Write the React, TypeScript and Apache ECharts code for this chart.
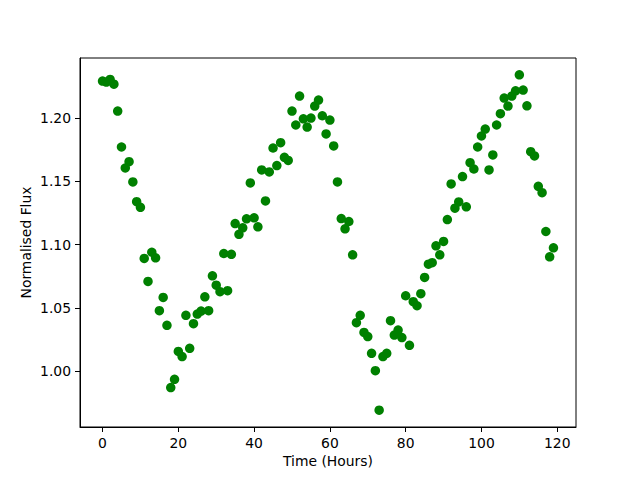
import React, { useEffect, useRef } from "react";
import * as echarts from "echarts";

const hours: number[] = Array.from({ length: 120 }, (_, i) => i);

const flux: number[] = [
  1.2292, 1.2284, 1.2305, 1.2268, 1.2055, 1.1771, 1.1605, 1.1655, 1.1495, 1.1339,
  1.1294, 1.0890, 1.0708, 1.0939, 1.0895, 1.0477, 1.0582, 1.0361, 0.9869, 0.9934,
  1.0155, 1.0114, 1.0440, 1.0179, 1.0374, 1.0450, 1.0474, 1.0587, 1.0477, 1.0753,
  1.0679, 1.0627, 1.0929, 1.0635, 1.0923, 1.1166, 1.1081, 1.1132, 1.1203, 1.1487,
  1.1211, 1.1140, 1.1590, 1.1345, 1.1574, 1.1763, 1.1624, 1.1805, 1.1689, 1.1665,
  1.2055, 1.1945, 1.2174, 1.1994, 1.1929, 1.2000, 1.2095, 1.2142, 1.2018, 1.1874,
  1.1984, 1.1779, 1.1495, 1.1205, 1.1124, 1.1182, 1.0919, 1.0382, 1.0440, 1.0305,
  1.0272, 1.0140, 1.0003, 0.9690, 1.0114, 1.0140, 1.0398, 1.0284, 1.0324, 1.0264,
  1.0595, 1.0203, 1.0548, 1.0516, 1.0611, 1.0740, 1.0845, 1.0856, 1.0990, 1.0919,
  1.1024, 1.1197, 1.1479, 1.1287, 1.1337, 1.1537, 1.1298, 1.1647, 1.1597, 1.1771,
  1.1858, 1.1913, 1.1590, 1.1708, 1.1945, 1.2034, 1.2158, 1.2095, 1.2174, 1.2215,
  1.2342, 1.2221, 1.2097, 1.1734, 1.1700, 1.1460, 1.1410, 1.1103, 1.0903, 1.0974,
];

const xTicks: number[] = [0, 20, 40, 60, 80, 100, 120];
const yTicks: number[] = [1.0, 1.05, 1.1, 1.15, 1.2];

const xTitle = "Time (Hours)";
const yTitle = "Normalised Flux";

export default function App() {
  const ref = useRef<HTMLDivElement>(null);

  useEffect(() => {
    if (!ref.current) return;
    const chart = echarts.init(ref.current, null, { renderer: "svg" });

    const xMin = Math.min(...hours);
    const xMax = Math.max(...hours);
    const xPad = (xMax - xMin) * 0.05;
    const yMin = Math.min(...flux);
    const yMax = Math.max(...flux);
    const yPad = (yMax - yMin) * 0.05;

    const font = "DejaVu Sans";
    const fs = 13.9;

    chart.setOption({
      animation: false,
      backgroundColor: "#ffffff",
      grid: {
        left: 80,
        top: 58,
        right: 64,
        bottom: 53,
        show: true,
        borderColor: "#000000",
        borderWidth: 1,
        backgroundColor: "transparent",
        containLabel: false,
      },
      xAxis: {
        type: "value",
        min: xMin - xPad,
        max: xMax + xPad,
        name: xTitle,
        nameLocation: "middle",
        nameGap: 27,
        nameMoveOverlap: false,
        nameTextStyle: { fontFamily: font, fontSize: fs, color: "#000" },
        axisLine: { show: true, onZero: false, lineStyle: { color: "#000", width: 1 } },
        axisTick: {
          show: true,
          length: 5,
          inside: false,
          customValues: xTicks,
          lineStyle: { color: "#000", width: 1 },
        },
        axisLabel: {
          show: true,
          margin: 9,
          customValues: xTicks,
          fontFamily: font,
          fontSize: fs,
          color: "#000",
          formatter: (v: number) => String(Math.round(v)),
        },
        splitLine: { show: false },
      },
      yAxis: {
        type: "value",
        min: yMin - yPad,
        max: yMax + yPad,
        name: yTitle,
        nameLocation: "middle",
        nameGap: 47,
        nameMoveOverlap: false,
        nameRotate: 90,
        nameTextStyle: { fontFamily: font, fontSize: fs, color: "#000" },
        axisLine: { show: true, onZero: false, lineStyle: { color: "#000", width: 1 } },
        axisTick: {
          show: true,
          length: 5,
          inside: false,
          customValues: yTicks,
          lineStyle: { color: "#000", width: 1 },
        },
        axisLabel: {
          show: true,
          margin: 9,
          customValues: yTicks,
          fontFamily: font,
          fontSize: fs,
          color: "#000",
          formatter: (v: number) => v.toFixed(2),
        },
        splitLine: { show: false },
      },
      series: [
        {
          type: "scatter",
          data: hours.map((h, i) => [h, flux[i]]),
          symbol: "circle",
          symbolSize: 9.5,
          itemStyle: { color: "#008000", opacity: 1 },
          emphasis: { disabled: true },
        },
      ],
    });

    return () => chart.dispose();
  }, []);

  return (
    <div
      ref={ref}
      style={{ position: "fixed", left: 0, top: 0, width: 640, height: 480, background: "#fff" }}
    />
  );
}
